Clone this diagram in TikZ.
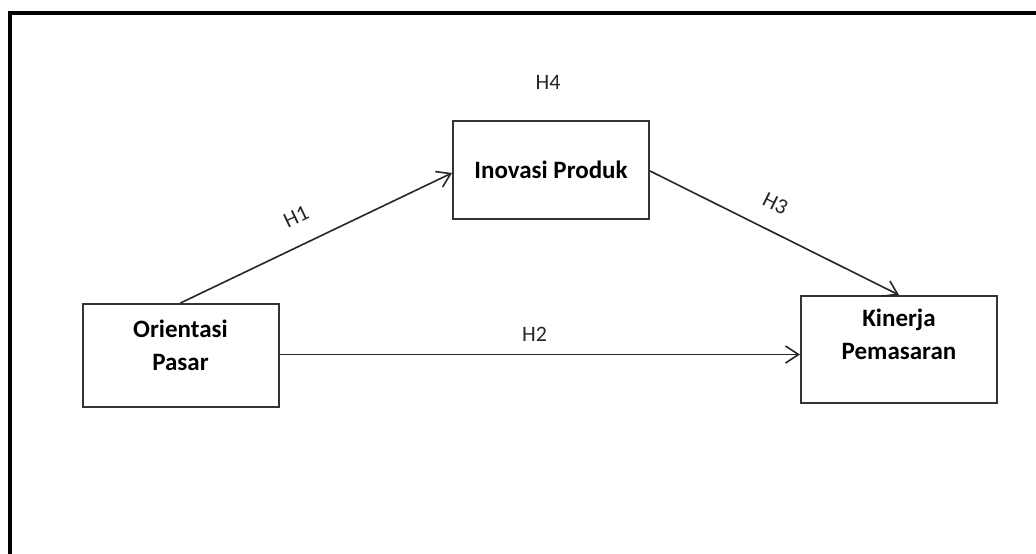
\documentclass[tikz,border=0pt]{standalone}
\usepackage{fontspec}
\setmainfont{Carlito}
\usetikzlibrary{arrows.meta}
\usetikzlibrary{positioning}
\begin{document}
\begin{tikzpicture}[x=1pt,y=-1pt,->,>={Straight Barb[length=13pt,width=17pt]}]
		\tikzset{vertex/.style = {shape=rectangle, draw=black!80, line width=2pt, align=center, minimum width=196pt, minimum height=100pt, font=\fontsize{25}{33}\selectfont\bfseries}}
		\tikzset{hyp/.style = {font=\fontsize{22}{26}\selectfont, text=black!85, inner sep=1pt}}
		\tikzset{link/.style = {line width=1.6pt, draw=black!85}}
		\useasboundingbox (0,0) rectangle (1036,554);
		\draw[-, line width=4pt] (10,556) -- (10,13) -- (1038,13);
		\node[vertex, minimum height=98pt] (INOVASI) at (551,170) {Inovasi Produk};
		\node[vertex, minimum height=103pt, text depth=20pt] (ORIENTASI) at (180.5,355.5) {Orientasi\\Pasar};
		\node[vertex, minimum height=107pt, text depth=30pt] (KINERJA) at (899,349.5) {Kinerja\\Pemasaran};
		\node[hyp] (H4) at (548,82) {H4};
		
		\draw[link] (ORIENTASI.north) -- node[hyp, pos=0.47, sloped, above=19pt] (H1) {H1} ([yshift=-3pt]INOVASI.west);
		\draw[link] ([yshift=1pt]ORIENTASI.east) -- node[hyp, pos=0.49, above=11pt] (H2) {H2} ([yshift=1pt]ORIENTASI.east -| KINERJA.west);
		\draw[link] ([yshift=-1pt]INOVASI.east) -- node[hyp, pos=0.455, sloped, above=18pt] (H3) {H3} (KINERJA.north);
		
		\end{tikzpicture}
\end{document}
